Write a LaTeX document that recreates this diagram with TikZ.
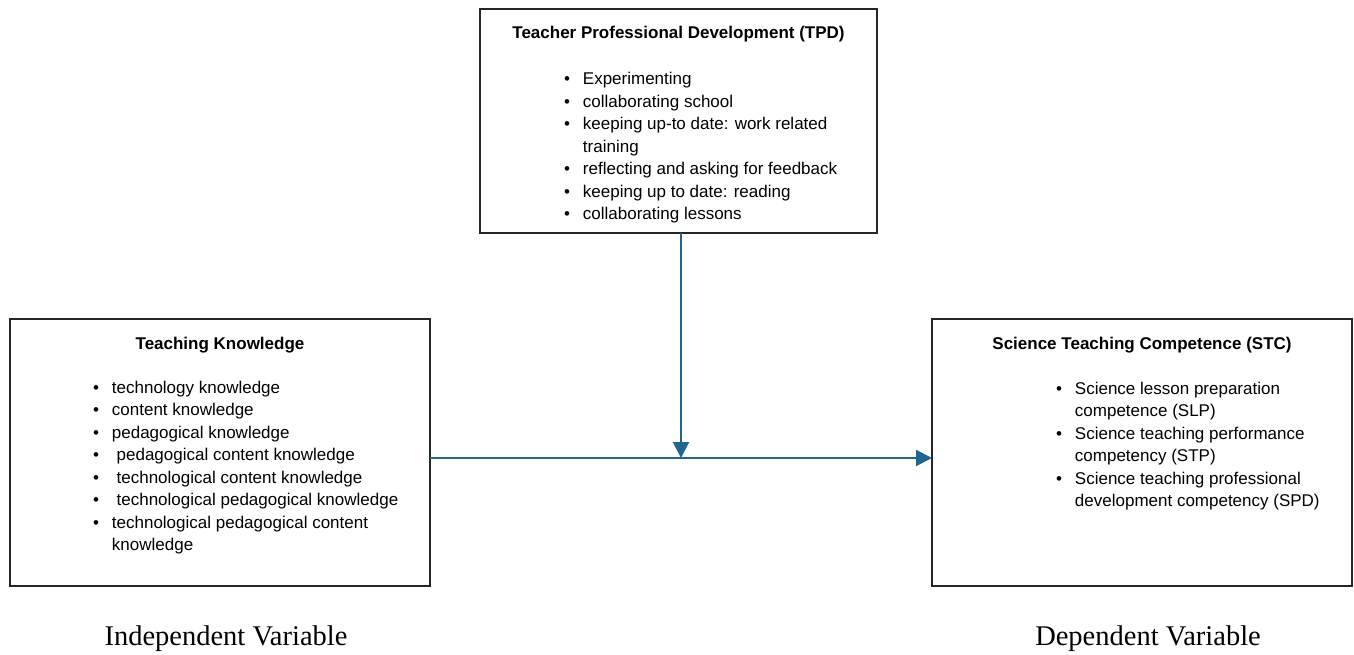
\documentclass[tikz,border=0pt]{standalone}
\usepackage{fontspec}
\setmainfont{Liberation Serif}
\setsansfont{Liberation Sans}
\usetikzlibrary{arrows.meta,positioning}
\definecolor{linkblue}{HTML}{1F6790}

\begin{document}
\begin{tikzpicture} [>={Triangle[length=16pt,width=16pt]},line width=2pt,
	box node/.style={rectangle,draw=black!85,outer sep=0pt,inner sep=0pt},
	title node/.style={inner sep=0pt,anchor=base,font=\sffamily\fontsize{17}{22.5}\selectfont\bfseries},
	list node/.style={inner sep=0pt,anchor=base west,font=\sffamily\fontsize{17}{22.5}\selectfont},
	var node/.style={inner sep=0pt,anchor=base,font=\fontsize{28.5}{33}\selectfont}]

	\useasboundingbox (0,0) rectangle (1354pt,-655pt);

	\node[box node,minimum width=397pt,minimum height=224pt] (0) at (678.5pt,-121pt) {};
	\node[box node,minimum width=420pt,minimum height=267pt] (1) [below left=86pt and 50pt of 0] {};
	\node[box node,minimum width=420pt,minimum height=267pt] (2) [below right=86pt and 55pt of 0] {};

	\node[below=30pt of 0.north,title node] (0t) {Teacher Professional Development (TPD)};
	\node[below=30pt of 1.north,title node] (1t) {Teaching Knowledge};
	\node[below=30pt of 2.north,title node] (2t) {Science Teaching Competence (STC)};

	\node[below right=76pt and 83pt of 0.north west,list node] (0l) {\begin{tabular}[t]{@{}l@{\hspace{13pt}}l@{}}
		\textbullet & Experimenting\\
		\textbullet & collaborating school\\
		\textbullet & keeping up-to date: work related\\
		            & training\\
		\textbullet & reflecting and asking for feedback\\
		\textbullet & keeping up to date: reading\\
		\textbullet & collaborating lessons
	\end{tabular}};
	\node[below right=74pt and 82pt of 1.north west,list node] (1l) {\begin{tabular}[t]{@{}l@{\hspace{13pt}}l@{}}
		\textbullet & technology knowledge\\
		\textbullet & content knowledge\\
		\textbullet & pedagogical knowledge\\
		\textbullet & \ pedagogical content knowledge\\
		\textbullet & \ technological content knowledge\\
		\textbullet & \ technological pedagogical knowledge\\
		\textbullet & technological pedagogical content\\
		            & knowledge
	\end{tabular}};
	\node[below right=75pt and 123pt of 2.north west,list node] (2l) {\begin{tabular}[t]{@{}l@{\hspace{13pt}}l@{}}
		\textbullet & Science lesson preparation\\
		            & competence (SLP)\\
		\textbullet & Science teaching performance\\
		            & competency (STP)\\
		\textbullet & Science teaching professional\\
		            & development competency (SPD)
	\end{tabular}};

	\node[below=59pt of 1.south,xshift=6pt,var node] (3) {Independent Variable};
	\node[below=59pt of 2.south,xshift=6pt,var node] (4) {Dependent Variable};

	\coordinate[below=225pt of 0.south,xshift=2.5pt] (m);

	\path[->,linkblue]
	(1.east |- m) edge (2.west |- m)
	(0.south -| m) edge (m);
\end{tikzpicture}
\end{document}
